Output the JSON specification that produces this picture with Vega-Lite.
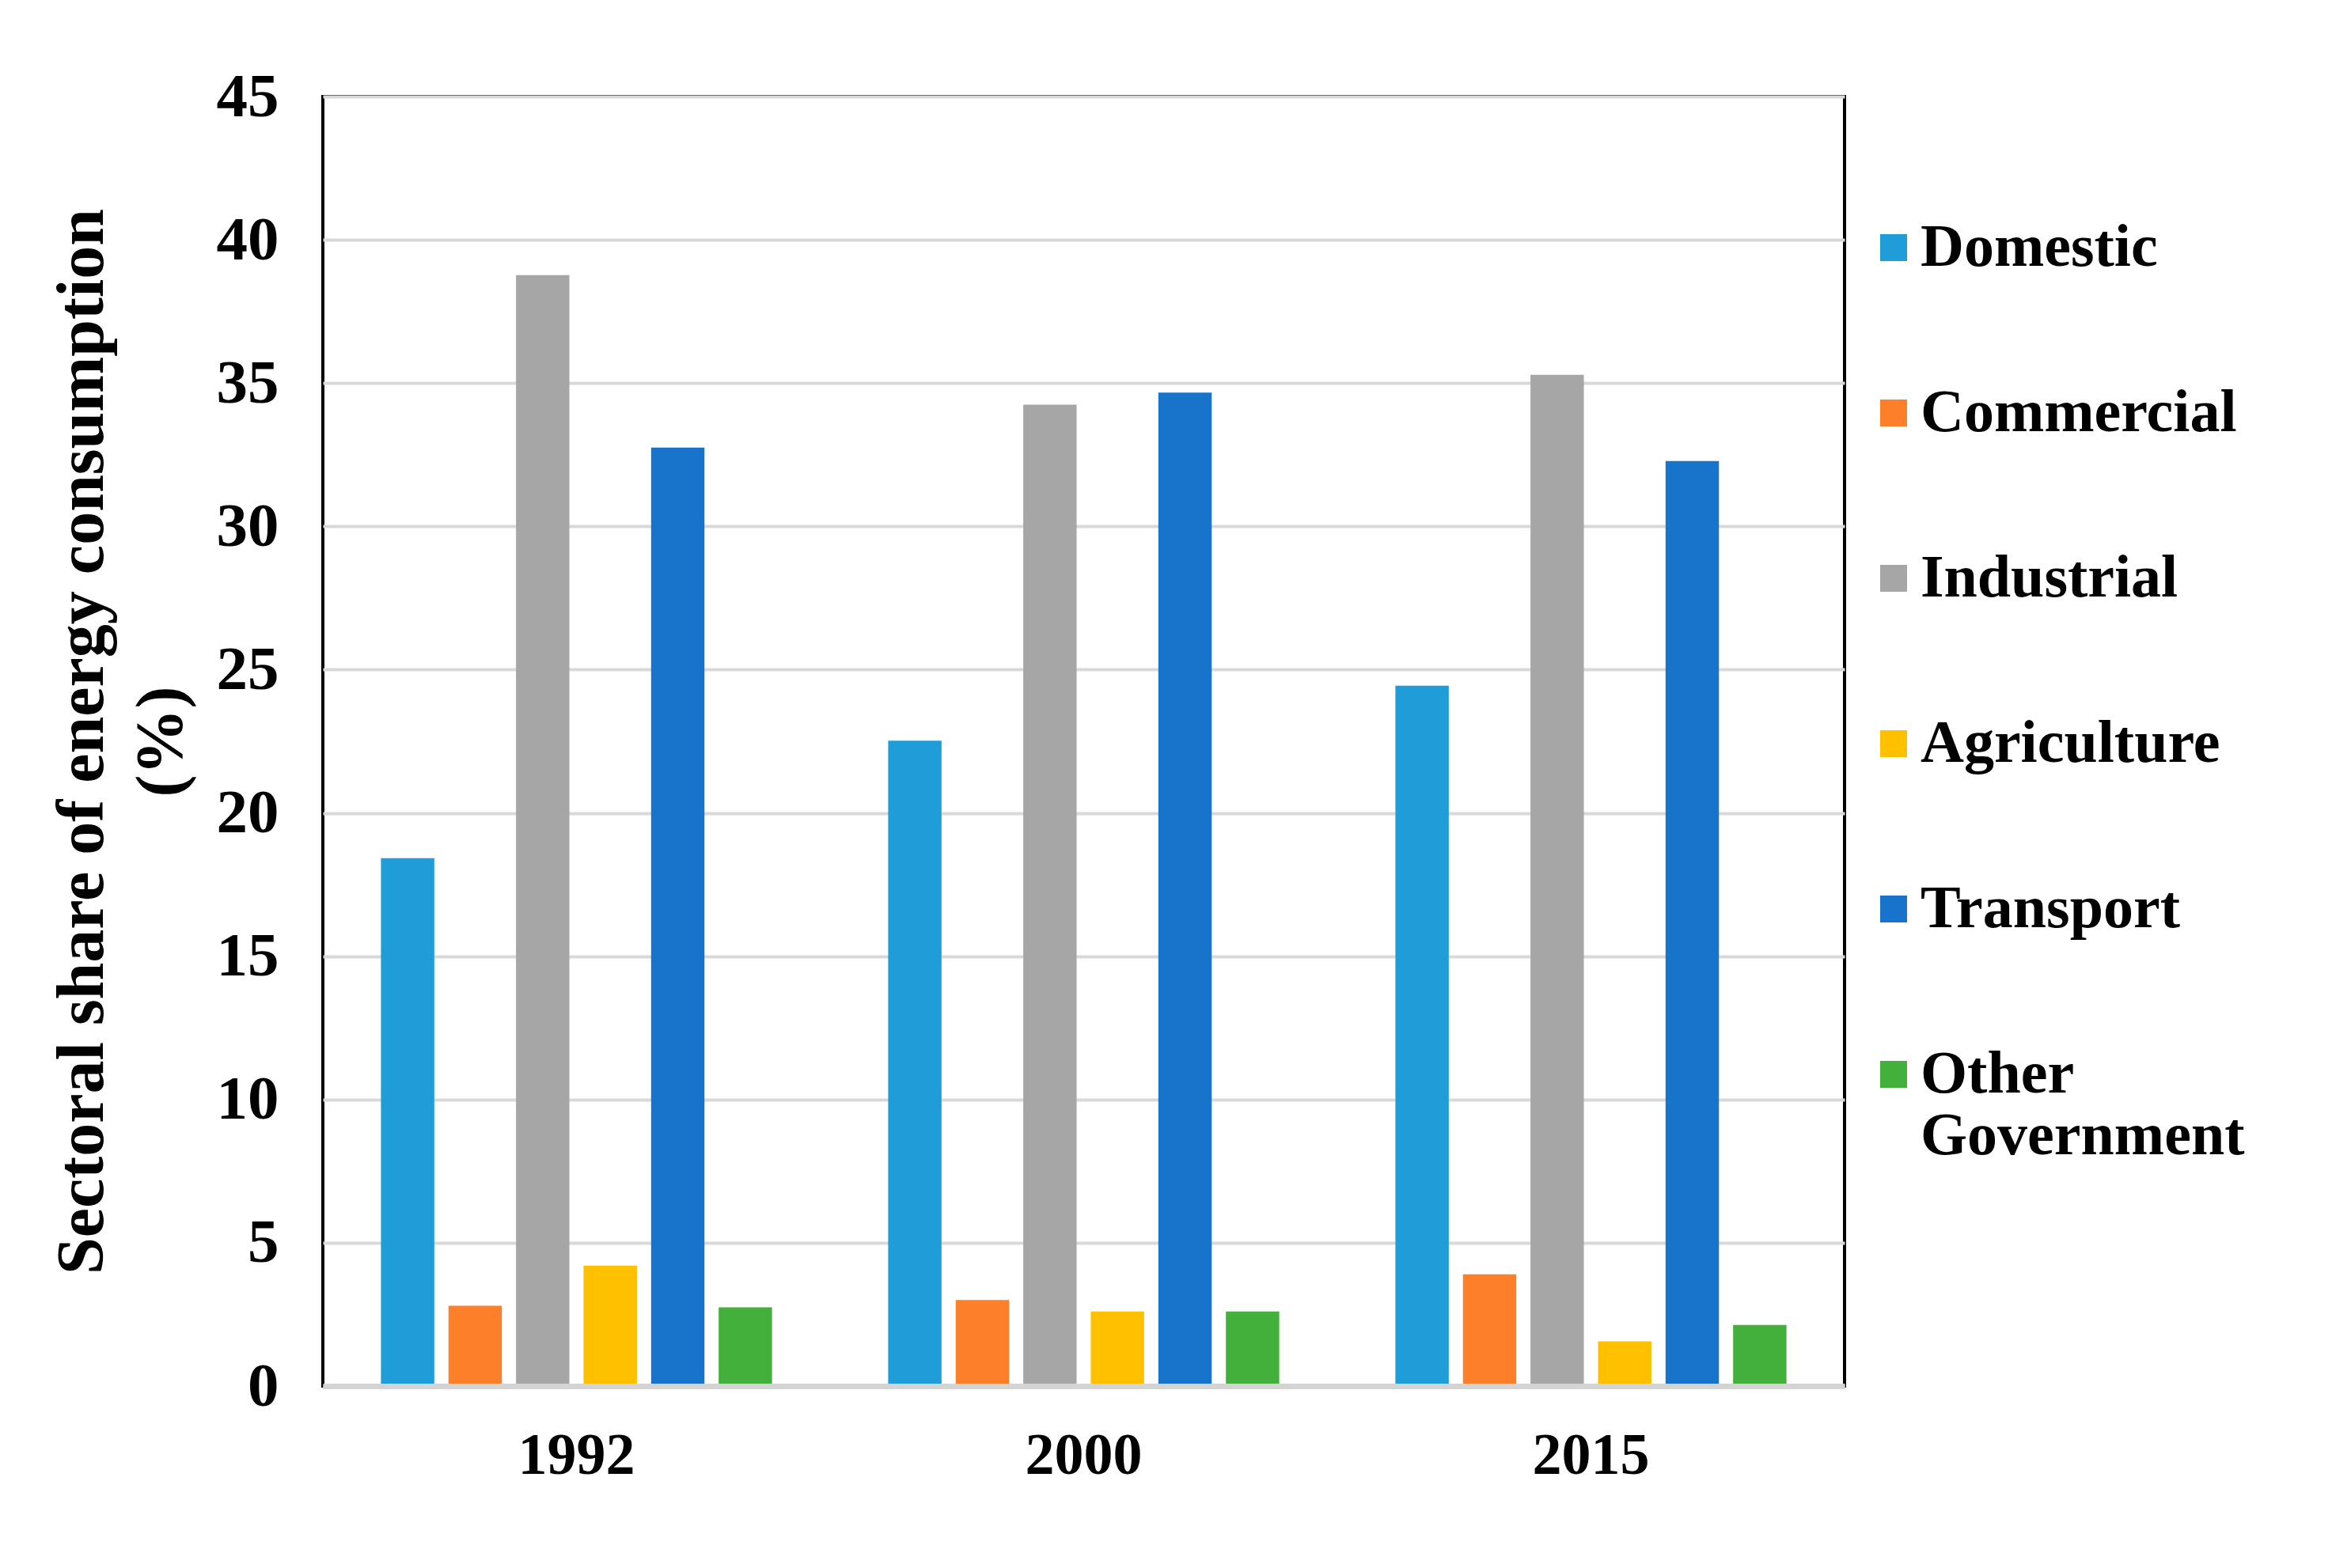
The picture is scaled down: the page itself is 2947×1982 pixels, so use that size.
{
  "$schema": "https://vega.github.io/schema/vega-lite/v6.json",
  "autosize": {"type": "none"},
  "padding": {"left": 408, "top": 122, "right": 616, "bottom": 230},
  "width": 1923,
  "height": 1630,
  "background": "white",
  "config": {
    "font": "Liberation Serif",
    "view": {"stroke": "black", "strokeWidth": 4},
    "axis": {"labelFont": "Liberation Serif", "labelFontWeight": "bold", "labelColor": "black", "titleFont": "Liberation Serif", "titleFontWeight": "bold", "titleColor": "black"},
    "legend": {"labelFont": "Liberation Serif", "labelFontWeight": "bold", "labelColor": "black"}
  },
  "data": {
    "values": [
      {"year": "1992", "sector": "Domestic", "value": 18.42},
      {"year": "1992", "sector": "Commercial", "value": 2.8},
      {"year": "1992", "sector": "Industrial", "value": 38.77},
      {"year": "1992", "sector": "Agriculture", "value": 4.2},
      {"year": "1992", "sector": "Transport", "value": 32.75},
      {"year": "1992", "sector": "Other Government", "value": 2.75},
      {"year": "2000", "sector": "Domestic", "value": 22.52},
      {"year": "2000", "sector": "Commercial", "value": 3.0},
      {"year": "2000", "sector": "Industrial", "value": 34.25},
      {"year": "2000", "sector": "Agriculture", "value": 2.6},
      {"year": "2000", "sector": "Transport", "value": 34.67},
      {"year": "2000", "sector": "Other Government", "value": 2.6},
      {"year": "2015", "sector": "Domestic", "value": 24.44},
      {"year": "2015", "sector": "Commercial", "value": 3.9},
      {"year": "2015", "sector": "Industrial", "value": 35.29},
      {"year": "2015", "sector": "Agriculture", "value": 1.56},
      {"year": "2015", "sector": "Transport", "value": 32.28},
      {"year": "2015", "sector": "Other Government", "value": 2.13}
    ]
  },
  "mark": {"type": "bar"},
  "encoding": {
    "x": {
      "field": "year", "type": "nominal",
      "scale": {"paddingInner": 0.229, "paddingOuter": 0.1145},
      "axis": {"title": null, "labelAngle": 0, "labelFontSize": 74, "labelPadding": 52, "ticks": false, "domain": true, "domainColor": "#d4d4d4", "domainWidth": 7, "zindex": 1}
    },
    "xOffset": {
      "field": "sector", "type": "nominal",
      "sort": ["Domestic", "Commercial", "Industrial", "Agriculture", "Transport", "Other Government"],
      "scale": {"paddingInner": 0.21, "paddingOuter": 0}
    },
    "y": {
      "field": "value", "type": "quantitative",
      "scale": {"domain": [0, 45], "nice": false},
      "axis": {
        "values": [0, 5, 10, 15, 20, 25, 30, 35, 40, 45],
        "title": ["Sectoral share of energy consumption", "(%)"],
        "titleFontSize": 84, "titleLineHeight": 100,
        "titleX": -304, "titleY": 815, "titleBaseline": "middle", "titleAngle": -90, "titleAlign": "center",
        "labelFontSize": 79, "labelPadding": 56, "ticks": false, "domain": false,
        "grid": true, "gridColor": "#d9d9d9", "gridWidth": 4
      }
    },
    "color": {
      "field": "sector", "type": "nominal",
      "sort": ["Domestic", "Commercial", "Industrial", "Agriculture", "Transport", "Other Government"],
      "scale": {
        "domain": ["Domestic", "Commercial", "Industrial", "Agriculture", "Transport", "Other Government"],
        "range": ["#1f9dd9", "#fe7f29", "#a6a6a6", "#ffc000", "#1874cb", "#44b03c"]
      },
      "legend": {
        "title": null, "orient": "none", "legendX": 1947, "legendY": 153,
        "symbolType": "square", "symbolSize": 1156, "symbolStrokeWidth": 0, "symbolOpacity": 1,
        "labelFontSize": 76, "labelOffset": -4, "rowPadding": 133, "labelLimit": 0,
        "labelBaseline": "middle",
        "labelExpr": "datum.label == 'Other Government' ? ['Other', 'Government'] : datum.label"
      }
    }
  }
}
